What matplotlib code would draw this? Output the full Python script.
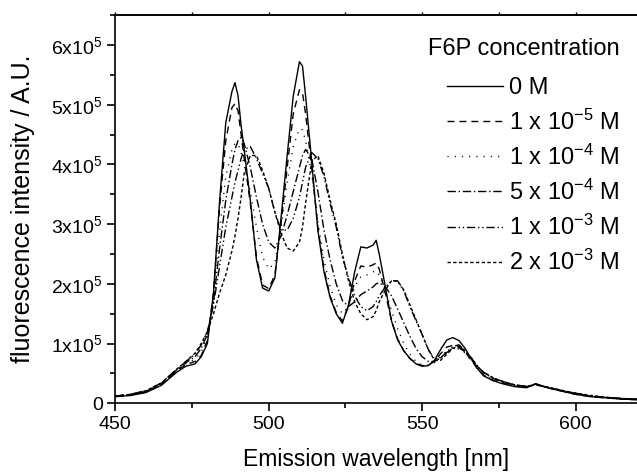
import numpy as np
import matplotlib
matplotlib.use("Agg")
import matplotlib.pyplot as plt

plt.rcParams['font.family'] = ['Liberation Sans', 'DejaVu Sans']
plt.rcParams['mathtext.fontset'] = 'custom'
plt.rcParams['mathtext.rm'] = 'Liberation Sans'
plt.rcParams['mathtext.it'] = 'Liberation Sans:italic'
plt.rcParams['mathtext.bf'] = 'Liberation Sans:bold'

# wavelength grid (nm)
wavelength = [450, 455, 460, 465, 470, 473, 476, 478, 480, 482, 484, 486, 488, 489, 490, 491, 492, 494, 496, 498,
              500, 502, 504, 506, 508, 510, 511, 512, 514, 516, 518, 520, 522, 524, 526, 528, 530, 532, 534, 535,
              536, 538, 540, 542, 544, 546, 548, 550, 552, 554, 556, 558, 560, 562, 564, 566, 568, 570, 573, 576,
              580, 584, 587, 590, 595, 600, 605, 610, 615, 620]

# intensities in units of 1e5 A.U.
i_0M = [0.11, 0.13, 0.18, 0.30, 0.52, 0.62, 0.66, 0.78, 1.00, 1.85, 3.40, 4.70, 5.22, 5.37, 5.15, 4.65, 4.25, 3.40, 2.40, 1.93,
        1.88, 2.10, 3.10, 4.15, 5.15, 5.72, 5.65, 5.15, 4.05, 2.90, 2.20, 1.77, 1.50, 1.34, 1.65, 2.20, 2.62, 2.60, 2.65, 2.73,
        2.50, 1.95, 1.38, 1.06, 0.88, 0.75, 0.66, 0.62, 0.63, 0.72, 0.90, 1.06, 1.10, 1.05, 0.92, 0.74, 0.58, 0.46, 0.38, 0.33,
        0.28, 0.26, 0.33, 0.27, 0.21, 0.15, 0.11, 0.09, 0.07, 0.06]
i_1e5 = [0.12, 0.14, 0.19, 0.31, 0.54, 0.65, 0.70, 0.80, 1.05, 1.85, 3.30, 4.40, 4.95, 5.02, 4.90, 4.50, 4.10, 3.35, 2.45, 1.98,
         1.92, 2.15, 3.00, 3.95, 4.85, 5.25, 5.20, 4.85, 3.95, 2.95, 2.25, 1.80, 1.52, 1.38, 1.62, 2.05, 2.30, 2.28, 2.32, 2.35,
         2.25, 1.85, 1.38, 1.08, 0.88, 0.75, 0.67, 0.63, 0.64, 0.70, 0.83, 0.94, 0.97, 0.95, 0.86, 0.72, 0.58, 0.47, 0.39, 0.34,
         0.29, 0.27, 0.32, 0.27, 0.21, 0.15, 0.11, 0.09, 0.07, 0.06]
i_1e4 = [0.12, 0.14, 0.20, 0.32, 0.55, 0.66, 0.74, 0.86, 1.10, 1.75, 2.90, 3.80, 4.25, 4.35, 4.35, 4.20, 4.00, 3.55, 2.95, 2.45,
         2.25, 2.35, 2.95, 3.70, 4.30, 4.60, 4.58, 4.40, 3.85, 3.05, 2.40, 1.95, 1.65, 1.50, 1.62, 1.95, 2.12, 2.15, 2.20, 2.22,
         2.15, 1.90, 1.55, 1.25, 1.00, 0.82, 0.70, 0.64, 0.64, 0.68, 0.78, 0.88, 0.92, 0.91, 0.84, 0.72, 0.60, 0.49, 0.40, 0.35,
         0.30, 0.27, 0.31, 0.27, 0.21, 0.16, 0.12, 0.09, 0.07, 0.06]
i_5e4 = [0.12, 0.15, 0.20, 0.33, 0.56, 0.68, 0.78, 0.92, 1.15, 1.70, 2.60, 3.40, 4.00, 4.25, 4.40, 4.45, 4.35, 3.95, 3.45, 3.00,
         2.70, 2.60, 2.80, 3.15, 3.55, 3.95, 4.15, 4.25, 4.10, 3.55, 2.90, 2.40, 2.00, 1.72, 1.62, 1.70, 1.82, 1.88, 1.95, 2.00,
         2.02, 1.95, 1.80, 1.58, 1.35, 1.12, 0.92, 0.78, 0.70, 0.70, 0.76, 0.85, 0.92, 0.93, 0.86, 0.75, 0.62, 0.51, 0.42, 0.36,
         0.31, 0.28, 0.31, 0.28, 0.22, 0.16, 0.12, 0.10, 0.08, 0.07]
i_1e3 = [0.12, 0.15, 0.21, 0.34, 0.57, 0.70, 0.82, 0.98, 1.20, 1.65, 2.30, 2.95, 3.45, 3.70, 3.90, 4.10, 4.25, 4.30, 4.10, 3.85,
         3.60, 3.20, 2.90, 2.90, 3.10, 3.45, 3.70, 3.95, 4.20, 4.10, 3.80, 3.35, 2.95, 2.45, 2.10, 1.80, 1.62, 1.55, 1.62, 1.70,
         1.80, 1.95, 2.05, 2.05, 1.88, 1.62, 1.38, 1.15, 0.90, 0.74, 0.76, 0.86, 0.95, 0.98, 0.88, 0.76, 0.62, 0.52, 0.43, 0.37,
         0.31, 0.28, 0.31, 0.28, 0.22, 0.17, 0.12, 0.10, 0.08, 0.07]
i_2e3 = [0.12, 0.15, 0.21, 0.34, 0.57, 0.70, 0.84, 1.00, 1.20, 1.50, 1.85, 2.15, 2.55, 2.80, 3.10, 3.45, 3.85, 4.15, 4.15, 3.90,
         3.60, 3.20, 2.85, 2.60, 2.55, 2.70, 2.95, 3.35, 4.05, 4.15, 3.85, 3.40, 3.00, 2.50, 2.05, 1.70, 1.50, 1.40, 1.45, 1.55,
         1.70, 1.90, 2.05, 2.05, 1.90, 1.65, 1.40, 1.15, 0.90, 0.72, 0.72, 0.82, 0.92, 0.96, 0.88, 0.76, 0.62, 0.52, 0.43, 0.37,
         0.31, 0.28, 0.32, 0.28, 0.22, 0.17, 0.13, 0.10, 0.08, 0.07]

series = [i_0M, i_1e5, i_1e4, i_5e4, i_1e3, i_2e3]
labels = ['0 M',
          r'1 x 10$^{\mathregular{-5}}$ M',
          r'1 x 10$^{\mathregular{-4}}$ M',
          r'5 x 10$^{\mathregular{-4}}$ M',
          r'1 x 10$^{\mathregular{-3}}$ M',
          r'2 x 10$^{\mathregular{-3}}$ M']
styles = ['-', (0, (5, 3.6)), (0, (0.8, 4.4)), (0, (6, 2, 1, 2)), (0, (6, 2, 1, 2, 1, 2)), (0, (2.4, 1.7))]

yticks = [0, 1, 2, 3, 4, 5, 6]
ytick_labels = ['0'] + [r'$\mathregular{%dx10^5}$' % v for v in yticks[1:]]
xticks = [450, 500, 550, 600]
xminor = [475, 525, 575]

fig = plt.figure(figsize=(6.37, 4.75), dpi=100)
ax = fig.add_axes([0.181, 0.151, 0.819, 0.817])

x = np.array(wavelength)
for vals, lab, ls in zip(series, labels, styles):
    ax.plot(x, np.array(vals) * 1e5, color='black', lw=1.0, linestyle=ls, label=lab)

ax.set_xlim(450, 620)
ax.set_ylim(0, 6.5e5)
ax.set_xticks(xticks)
ax.set_xticks(xminor, minor=True)
ax.set_yticks([v * 1e5 for v in yticks])
ax.set_yticklabels(ytick_labels)
ax.set_yticks([v * 1e5 + 0.5e5 for v in yticks[:-1]] + [6.5e5], minor=True)
ax.tick_params(axis='both', which='major', direction='out', length=6, width=1.2, labelsize=14, pad=3)
ax.tick_params(axis='both', which='minor', direction='out', length=3.5, width=1.2)
ax.spines['right'].set_visible(False)
for sp in ['left', 'bottom', 'top']:
    ax.spines[sp].set_linewidth(1.2)

top = ax.secondary_xaxis('top')
top.set_xticks(xticks + xminor)
top.set_xticks([], minor=True)
top.tick_params(axis='x', direction='out', length=2.5, width=1.0, labeltop=False)
top.spines['top'].set_linewidth(1.2)

ax.set_xlabel('Emission wavelength [nm]', fontsize=16.5, labelpad=11)
ax.set_ylabel('fluorescence intensity / A.U.', fontsize=18, labelpad=12)

leg = ax.legend(title='F6P concentration', loc='upper right', bbox_to_anchor=(0.967, 0.94),
                frameon=False, fontsize=17, title_fontsize=17, handlelength=2.4,
                handletextpad=0.25, labelspacing=0.42, borderaxespad=0.0, borderpad=0.0,
                alignment='right')
leg._legend_box.sep = 0.42 * 17 + 5

fig.savefig('out.png', dpi=100)
